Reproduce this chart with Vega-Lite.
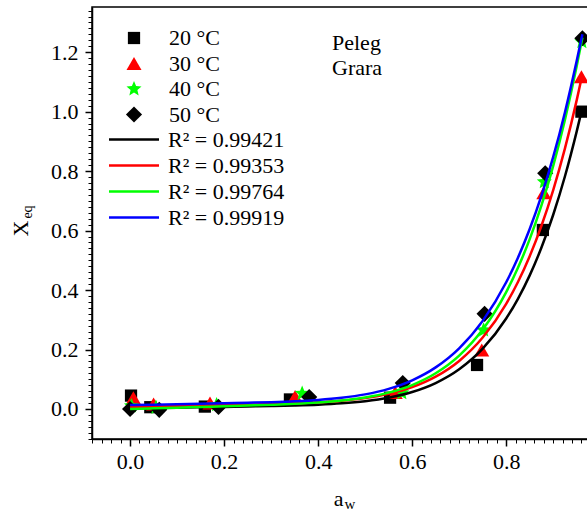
{
  "$schema": "https://vega.github.io/schema/vega-lite/v6.json",
  "width": 496,
  "height": 432,
  "autosize": {"type": "none"},
  "padding": {"left": 92, "top": 7, "right": 0, "bottom": 76},
  "background": "white",
  "config": {
    "font": "Liberation Serif",
    "view": {"stroke": "black", "strokeWidth": 1.5},
    "axis": {"grid": false, "labelFlush": false, "labelOverlap": false}
  },
  "datasets": {
    "pts": [
      {"series": "20 °C", "aw": 0.002, "X": 0.045},
      {"series": "20 °C", "aw": 0.043, "X": 0.006},
      {"series": "20 °C", "aw": 0.159, "X": 0.008},
      {"series": "20 °C", "aw": 0.34, "X": 0.032},
      {"series": "20 °C", "aw": 0.553, "X": 0.038},
      {"series": "20 °C", "aw": 0.738, "X": 0.148},
      {"series": "20 °C", "aw": 0.878, "X": 0.602},
      {"series": "20 °C", "aw": 0.96, "X": 1.0},
      {"series": "30 °C", "aw": 0.007, "X": 0.038},
      {"series": "30 °C", "aw": 0.05, "X": 0.017},
      {"series": "30 °C", "aw": 0.17, "X": 0.02},
      {"series": "30 °C", "aw": 0.351, "X": 0.042},
      {"series": "30 °C", "aw": 0.564, "X": 0.055},
      {"series": "30 °C", "aw": 0.748, "X": 0.198},
      {"series": "30 °C", "aw": 0.88, "X": 0.727},
      {"series": "30 °C", "aw": 0.96, "X": 1.117},
      {"series": "40 °C", "aw": 0.003, "X": 0.01},
      {"series": "40 °C", "aw": 0.055, "X": 0.005},
      {"series": "40 °C", "aw": 0.184, "X": 0.014},
      {"series": "40 °C", "aw": 0.366, "X": 0.052},
      {"series": "40 °C", "aw": 0.578, "X": 0.054},
      {"series": "40 °C", "aw": 0.752, "X": 0.265},
      {"series": "40 °C", "aw": 0.881, "X": 0.764},
      {"series": "40 °C", "aw": 0.961, "X": 1.235},
      {"series": "50 °C", "aw": 0.0, "X": 0.0},
      {"series": "50 °C", "aw": 0.062, "X": -0.003},
      {"series": "50 °C", "aw": 0.188, "X": 0.007},
      {"series": "50 °C", "aw": 0.381, "X": 0.04},
      {"series": "50 °C", "aw": 0.58, "X": 0.087},
      {"series": "50 °C", "aw": 0.754, "X": 0.32},
      {"series": "50 °C", "aw": 0.883, "X": 0.793},
      {"series": "50 °C", "aw": 0.962, "X": 1.247}
    ],
    "fits": [
      {"fit": "R² = 0.99421", "aw": 0, "X": 0.002},
      {"fit": "R² = 0.99421", "aw": 0.05, "X": 0.0033},
      {"fit": "R² = 0.99421", "aw": 0.1, "X": 0.0045},
      {"fit": "R² = 0.99421", "aw": 0.15, "X": 0.0058},
      {"fit": "R² = 0.99421", "aw": 0.2, "X": 0.007},
      {"fit": "R² = 0.99421", "aw": 0.25, "X": 0.0084},
      {"fit": "R² = 0.99421", "aw": 0.3, "X": 0.0099},
      {"fit": "R² = 0.99421", "aw": 0.35, "X": 0.0118},
      {"fit": "R² = 0.99421", "aw": 0.4, "X": 0.0145},
      {"fit": "R² = 0.99421", "aw": 0.45, "X": 0.0189},
      {"fit": "R² = 0.99421", "aw": 0.5, "X": 0.0261},
      {"fit": "R² = 0.99421", "aw": 0.55, "X": 0.0378},
      {"fit": "R² = 0.99421", "aw": 0.6, "X": 0.0569},
      {"fit": "R² = 0.99421", "aw": 0.65, "X": 0.087},
      {"fit": "R² = 0.99421", "aw": 0.7, "X": 0.1333},
      {"fit": "R² = 0.99421", "aw": 0.75, "X": 0.2027},
      {"fit": "R² = 0.99421", "aw": 0.8, "X": 0.3043},
      {"fit": "R² = 0.99421", "aw": 0.825, "X": 0.3706},
      {"fit": "R² = 0.99421", "aw": 0.85, "X": 0.4494},
      {"fit": "R² = 0.99421", "aw": 0.875, "X": 0.543},
      {"fit": "R² = 0.99421", "aw": 0.9, "X": 0.6533},
      {"fit": "R² = 0.99421", "aw": 0.925, "X": 0.7827},
      {"fit": "R² = 0.99421", "aw": 0.95, "X": 0.9338},
      {"fit": "R² = 0.99421", "aw": 0.962, "X": 1.013},
      {"fit": "R² = 0.99353", "aw": 0, "X": 0.007},
      {"fit": "R² = 0.99353", "aw": 0.05, "X": 0.0085},
      {"fit": "R² = 0.99353", "aw": 0.1, "X": 0.01},
      {"fit": "R² = 0.99353", "aw": 0.15, "X": 0.0115},
      {"fit": "R² = 0.99353", "aw": 0.2, "X": 0.013},
      {"fit": "R² = 0.99353", "aw": 0.25, "X": 0.0147},
      {"fit": "R² = 0.99353", "aw": 0.3, "X": 0.0165},
      {"fit": "R² = 0.99353", "aw": 0.35, "X": 0.0189},
      {"fit": "R² = 0.99353", "aw": 0.4, "X": 0.0223},
      {"fit": "R² = 0.99353", "aw": 0.45, "X": 0.0277},
      {"fit": "R² = 0.99353", "aw": 0.5, "X": 0.0365},
      {"fit": "R² = 0.99353", "aw": 0.55, "X": 0.0507},
      {"fit": "R² = 0.99353", "aw": 0.6, "X": 0.0733},
      {"fit": "R² = 0.99353", "aw": 0.65, "X": 0.1085},
      {"fit": "R² = 0.99353", "aw": 0.7, "X": 0.1616},
      {"fit": "R² = 0.99353", "aw": 0.75, "X": 0.2402},
      {"fit": "R² = 0.99353", "aw": 0.8, "X": 0.3537},
      {"fit": "R² = 0.99353", "aw": 0.825, "X": 0.4272},
      {"fit": "R² = 0.99353", "aw": 0.85, "X": 0.514},
      {"fit": "R² = 0.99353", "aw": 0.875, "X": 0.6163},
      {"fit": "R² = 0.99353", "aw": 0.9, "X": 0.7363},
      {"fit": "R² = 0.99353", "aw": 0.925, "X": 0.8763},
      {"fit": "R² = 0.99353", "aw": 0.95, "X": 1.0387},
      {"fit": "R² = 0.99353", "aw": 0.962, "X": 1.125},
      {"fit": "R² = 0.99764", "aw": 0, "X": 0.0},
      {"fit": "R² = 0.99764", "aw": 0.05, "X": 0.0023},
      {"fit": "R² = 0.99764", "aw": 0.1, "X": 0.0045},
      {"fit": "R² = 0.99764", "aw": 0.15, "X": 0.0068},
      {"fit": "R² = 0.99764", "aw": 0.2, "X": 0.009},
      {"fit": "R² = 0.99764", "aw": 0.25, "X": 0.0114},
      {"fit": "R² = 0.99764", "aw": 0.3, "X": 0.0141},
      {"fit": "R² = 0.99764", "aw": 0.35, "X": 0.0173},
      {"fit": "R² = 0.99764", "aw": 0.4, "X": 0.0217},
      {"fit": "R² = 0.99764", "aw": 0.45, "X": 0.0283},
      {"fit": "R² = 0.99764", "aw": 0.5, "X": 0.0386},
      {"fit": "R² = 0.99764", "aw": 0.55, "X": 0.0549},
      {"fit": "R² = 0.99764", "aw": 0.6, "X": 0.0805},
      {"fit": "R² = 0.99764", "aw": 0.65, "X": 0.12},
      {"fit": "R² = 0.99764", "aw": 0.7, "X": 0.1794},
      {"fit": "R² = 0.99764", "aw": 0.75, "X": 0.267},
      {"fit": "R² = 0.99764", "aw": 0.8, "X": 0.3932},
      {"fit": "R² = 0.99764", "aw": 0.825, "X": 0.4749},
      {"fit": "R² = 0.99764", "aw": 0.85, "X": 0.5713},
      {"fit": "R² = 0.99764", "aw": 0.875, "X": 0.6849},
      {"fit": "R² = 0.99764", "aw": 0.9, "X": 0.8179},
      {"fit": "R² = 0.99764", "aw": 0.925, "X": 0.9731},
      {"fit": "R² = 0.99764", "aw": 0.95, "X": 1.1533},
      {"fit": "R² = 0.99764", "aw": 0.962, "X": 1.249},
      {"fit": "R² = 0.99919", "aw": 0, "X": 0.013},
      {"fit": "R² = 0.99919", "aw": 0.05, "X": 0.0145},
      {"fit": "R² = 0.99919", "aw": 0.1, "X": 0.016},
      {"fit": "R² = 0.99919", "aw": 0.15, "X": 0.0175},
      {"fit": "R² = 0.99919", "aw": 0.2, "X": 0.0191},
      {"fit": "R² = 0.99919", "aw": 0.25, "X": 0.0208},
      {"fit": "R² = 0.99919", "aw": 0.3, "X": 0.0229},
      {"fit": "R² = 0.99919", "aw": 0.35, "X": 0.0258},
      {"fit": "R² = 0.99919", "aw": 0.4, "X": 0.0303},
      {"fit": "R² = 0.99919", "aw": 0.45, "X": 0.0375},
      {"fit": "R² = 0.99919", "aw": 0.5, "X": 0.0491},
      {"fit": "R² = 0.99919", "aw": 0.55, "X": 0.0676},
      {"fit": "R² = 0.99919", "aw": 0.6, "X": 0.0964},
      {"fit": "R² = 0.99919", "aw": 0.65, "X": 0.1399},
      {"fit": "R² = 0.99919", "aw": 0.7, "X": 0.204},
      {"fit": "R² = 0.99919", "aw": 0.75, "X": 0.2963},
      {"fit": "R² = 0.99919", "aw": 0.8, "X": 0.4261},
      {"fit": "R² = 0.99919", "aw": 0.825, "X": 0.5088},
      {"fit": "R² = 0.99919", "aw": 0.85, "X": 0.6051},
      {"fit": "R² = 0.99919", "aw": 0.875, "X": 0.7176},
      {"fit": "R² = 0.99919", "aw": 0.9, "X": 0.8478},
      {"fit": "R² = 0.99919", "aw": 0.925, "X": 0.9982},
      {"fit": "R² = 0.99919", "aw": 0.95, "X": 1.1708},
      {"fit": "R² = 0.99919", "aw": 0.962, "X": 1.26}
    ],
    "notes": [
      {"label": "Peleg", "aw": 0.4295, "X": 1.207},
      {"label": "Grara", "aw": 0.4295, "X": 1.123}
    ]
  },
  "layer": [
    {
      "data": {"name": "pts"},
      "mark": {"type": "point", "filled": true, "opacity": 1, "strokeWidth": 0},
      "encoding": {
        "x": {
          "field": "aw", "type": "quantitative",
          "scale": {"domain": [-0.081, 0.974], "nice": false, "zero": false},
          "axis": {
            "orient": "bottom", "values": [0, 0.2, 0.4, 0.6, 0.8], "format": ".1f",
            "tickSize": 7, "tickWidth": 1.5, "tickColor": "black",
            "domainColor": "black", "domainWidth": 1.5,
            "labelFont": "Liberation Serif", "labelFontSize": 22, "labelColor": "black", "labelPadding": 5,
            "title": "a", "titleFont": "Liberation Serif", "titleFontSize": 22, "titleFontWeight": "normal",
            "titleColor": "black", "titleX": 246, "titleY": 66, "titleAlign": "center", "titleBaseline": "alphabetic"
          }
        },
        "y": {
          "field": "X", "type": "quantitative",
          "scale": {"domain": [-0.101, 1.352], "nice": false, "zero": false},
          "axis": {
            "orient": "left", "values": [0, 0.2, 0.4, 0.6, 0.8, 1.0, 1.2], "format": ".1f",
            "tickSize": 7, "tickWidth": 1.5, "tickColor": "black",
            "domainColor": "black", "domainWidth": 1.5,
            "labelFont": "Liberation Serif", "labelFontSize": 22, "labelColor": "black", "labelPadding": 7,
            "title": "X", "titleFont": "Liberation Serif", "titleFontSize": 22, "titleFontWeight": "normal",
            "titleColor": "black", "titleAngle": -90, "titleX": -65, "titleY": 221, "titleAlign": "center", "titleBaseline": "alphabetic"
          }
        },
        "fill": {
          "field": "series", "type": "nominal",
          "scale": {"domain": ["20 °C", "30 °C", "40 °C", "50 °C"], "range": ["black", "red", "#00ff00", "black"]},
          "legend": {
            "orient": "none", "legendX": 31, "legendY": 20, "title": null, "padding": 0,
            "labelFont": "Liberation Serif", "labelFontSize": 22, "labelColor": "black",
            "labelOffset": 24, "rowPadding": 3.5, "symbolStrokeWidth": 0
          }
        },
        "shape": {
          "field": "series", "type": "nominal",
          "scale": {"domain": ["20 °C", "30 °C", "40 °C", "50 °C"], "range": ["square", "triangle-up", "M0,-1L0.265,-0.364L0.951,-0.309L0.428,0.139L0.588,0.809L0,0.45L-0.588,0.809L-0.428,0.139L-0.951,-0.309L-0.265,-0.364Z", "diamond"]}
        },
        "size": {
          "field": "series", "type": "nominal",
          "scale": {"type": "ordinal", "domain": ["20 °C", "30 °C", "40 °C", "50 °C"], "range": [150, 225, 250, 260]}
        }
      }
    },
    {
      "data": {"name": "fits"},
      "mark": {"type": "line", "strokeWidth": 2.5, "interpolate": "monotone"},
      "encoding": {
        "x": {
          "field": "aw", "type": "quantitative",
          "scale": {"domain": [-0.081, 0.974], "nice": false, "zero": false},
          "axis": {
            "orient": "bottom",
            "values": [-0.08,-0.06,-0.04,-0.02,0,0.02,0.04,0.06,0.08,0.1,0.12,0.14,0.16,0.18,0.2,0.22,0.24,0.26,0.28,0.3,0.32,0.34,0.36,0.38,0.4,0.42,0.44,0.46,0.48,0.5,0.52,0.54,0.56,0.58,0.6,0.62,0.64,0.66,0.68,0.7,0.72,0.74,0.76,0.78,0.8,0.82,0.84,0.86,0.88,0.9,0.92,0.94,0.96],
            "tickSize": 4, "tickWidth": 1, "tickColor": "black", "domain": false, "labels": false,
            "title": "w", "titleFont": "Liberation Serif", "titleFontSize": 15, "titleFontWeight": "normal",
            "titleColor": "black", "titleX": 257.5, "titleY": 69.5, "titleAlign": "center", "titleBaseline": "alphabetic"
          }
        },
        "y": {
          "field": "X", "type": "quantitative",
          "scale": {"domain": [-0.101, 1.352], "nice": false, "zero": false},
          "axis": {
            "orient": "left",
            "values": [-0.1,-0.08,-0.06,-0.04,-0.02,0,0.02,0.04,0.06,0.08,0.1,0.12,0.14,0.16,0.18,0.2,0.22,0.24,0.26,0.28,0.3,0.32,0.34,0.36,0.38,0.4,0.42,0.44,0.46,0.48,0.5,0.52,0.54,0.56,0.58,0.6,0.62,0.64,0.66,0.68,0.7,0.72,0.74,0.76,0.78,0.8,0.82,0.84,0.86,0.88,0.9,0.92,0.94,0.96,0.98,1.0,1.02,1.04,1.06,1.08,1.1,1.12,1.14,1.16,1.18,1.2,1.22,1.24,1.26,1.28,1.3,1.32,1.34],
            "tickSize": 4, "tickWidth": 1, "tickColor": "black", "domain": false, "labels": false,
            "title": "eq", "titleFont": "Liberation Serif", "titleFontSize": 14, "titleFontWeight": "normal",
            "titleColor": "black", "titleAngle": -90, "titleX": -60.5, "titleY": 204.5, "titleAlign": "center", "titleBaseline": "alphabetic"
          }
        },
        "stroke": {
          "field": "fit", "type": "nominal",
          "scale": {"domain": ["R² = 0.99421", "R² = 0.99353", "R² = 0.99764", "R² = 0.99919"], "range": ["black", "red", "#00ff00", "blue"]},
          "legend": {
            "orient": "none", "legendX": 30.5, "legendY": 121, "title": null, "padding": 0,
            "symbolType": "M-2.5,0L2.5,0", "symbolSize": 400, "symbolStrokeWidth": 2.5,
            "labelFont": "Liberation Serif", "labelFontSize": 22, "labelColor": "black",
            "labelOffset": 22.5, "rowPadding": 3
          }
        }
      }
    },
    {
      "data": {"name": "notes"},
      "mark": {"type": "text", "align": "left", "baseline": "alphabetic", "font": "Liberation Serif", "fontSize": 22, "color": "black"},
      "encoding": {
        "x": {"field": "aw", "type": "quantitative", "axis": null},
        "y": {"field": "X", "type": "quantitative", "axis": null},
        "text": {"field": "label", "type": "nominal"}
      }
    }
  ],
  "resolve": {"axis": {"x": "independent", "y": "independent"}}
}
